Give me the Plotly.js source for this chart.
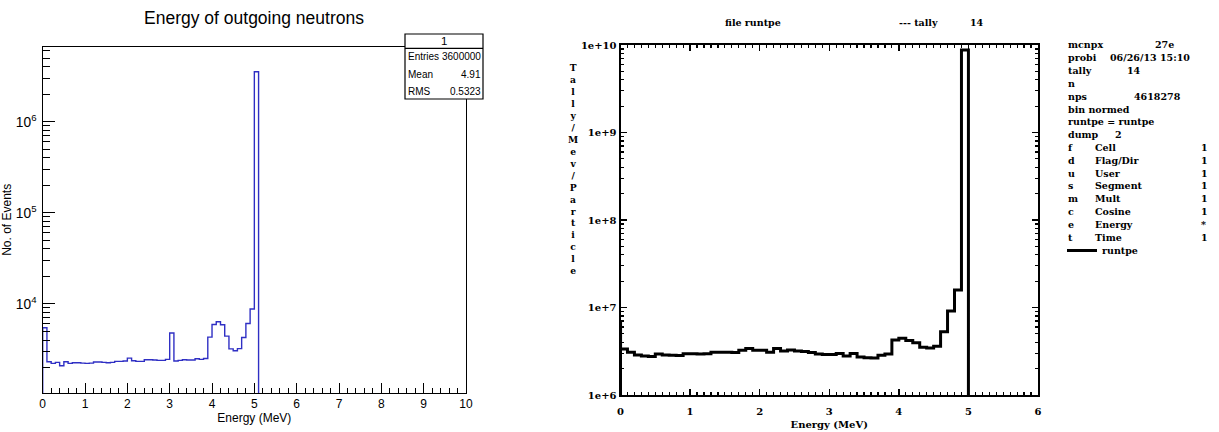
<!DOCTYPE html>
<html>
<head>
<meta charset="utf-8">
<script src="https://cdn.plot.ly/plotly-3.0.1.min.js"></script>
<style>html,body{margin:0;padding:0;background:#fff;}#plot{width:1219px;height:432px;}</style>
</head>
<body>
<div id="plot"></div>
<script>
// ---------- Left panel: ROOT histogram (bin edges in MeV, counts per 0.1 MeV bin) ----------
const leftEdges = [0.0,0.1,0.2,0.3,0.4,0.5,0.6,0.7,0.8,0.9,1.0,1.1,1.2,1.3,1.4,1.5,1.6,1.7,1.8,1.9,
  2.0,2.1,2.2,2.3,2.4,2.5,2.6,2.7,2.8,2.9,3.0,3.1,3.2,3.3,3.4,3.5,3.6,3.7,3.8,3.9,
  4.0,4.1,4.2,4.3,4.4,4.5,4.6,4.7,4.8,4.9,5.0,5.1];
const leftCounts = [5450,2306,2215,2270,2084,2306,2215,2250,2250,2230,
  2215,2230,2290,2290,2270,2250,2270,2330,2330,2350,
  2530,2366,2330,2330,2426,2426,2410,2390,2390,2450,
  4770,2350,2390,2426,2410,2410,2490,2450,2510,4300,
  5930,6340,5880,4415,3200,3045,3220,4270,6080,8750,
  3540000];
const leftXTickLabels = ['0','1','2','3','4','5','6','7','8','9','10'];
const statsLabels = ['Entries','Mean','RMS'];
const statsValues = ['3600000','4.91','0.5323'];

// ---------- Right panel: MCNP tally 14 (bin edges in MeV, tally/MeV/particle) ----------
const rightEdges = [0.0,0.001,0.1,0.2,0.3,0.4,0.5,0.6,0.7,0.8,0.9,1.0,1.1,1.2,1.3,1.4,1.5,1.6,1.7,1.8,1.9,
  2.0,2.1,2.2,2.3,2.4,2.5,2.6,2.7,2.8,2.9,3.0,3.1,3.2,3.3,3.4,3.5,3.6,3.7,3.8,3.9,
  4.0,4.1,4.2,4.3,4.4,4.5,4.6,4.7,4.8,4.9,5.0];
const rightValues = [6.6e6,
  3.36e6,3.08e6,2.87e6,2.79e6,2.76e6,2.94e6,2.87e6,2.84e6,2.82e6,2.96e6,
  2.96e6,2.94e6,2.96e6,3.08e6,3.08e6,3.08e6,3.05e6,3.24e6,3.39e6,3.24e6,
  3.24e6,3.08e6,3.39e6,3.18e6,3.27e6,3.18e6,3.15e6,3.05e6,2.94e6,2.91e6,
  2.91e6,2.99e6,2.79e6,2.99e6,2.72e6,2.66e6,2.64e6,2.84e6,2.94e6,4.25e6,
  4.45e6,4.2e6,3.95e6,3.51e6,3.45e6,3.6e6,5.3e6,9.1e6,1.58e7,8.77e9];
const rightYTickVals = [1e6,1e7,1e8,1e9,1e10];
const rightYTickLabels = ['1e+6','1e+7','1e+8','1e+9','1e+10'];
const rightYTitle = 'Tally/Mev/Particle';
const infoRows = [
  ['mcnpx','','27e'],
  ['probi','06/26/13 15:10',''],
  ['tally','14',''],
  ['n','',''],
  ['nps','4618278',''],
  ['bin normed','',''],
  ['runtpe = runtpe','',''],
  ['dump','2',''],
  ['f','Cell','1'],
  ['d','Flag/Dir','1'],
  ['u','User','1'],
  ['s','Segment','1'],
  ['m','Mult','1'],
  ['c','Cosine','1'],
  ['e','Energy','*'],
  ['t','Time','1']
];

// ---------- helpers ----------
const W = 1219, H = 432;
const px = x => x / W;
const py = y => 1 - y / H;
const EMPTY = 1e-3; // empty bins drawn down to (below) the axis floor, as in ROOT/MCNP
function stepXY(edges, vals) {
  const xs = [edges[0]].concat(edges);
  const ys = [EMPTY].concat(vals).concat([EMPTY]);
  return {x: xs, y: ys};
}
const L = stepXY(leftEdges, leftCounts);
const R = stepXY(rightEdges, rightValues);

const sans = 'Liberation Sans, Arial, sans-serif';
const serif = 'DejaVu Serif, serif';

const traces = [
  {x: L.x, y: L.y, type: 'scatter', mode: 'lines', line: {shape: 'hv', color: '#2f2fc4', width: 1.4},
   xaxis: 'x', yaxis: 'y', showlegend: false, hoverinfo: 'skip'},
  {x: R.x, y: R.y, type: 'scatter', mode: 'lines', name: 'runtpe', line: {shape: 'hv', color: '#000', width: 3},
   xaxis: 'x2', yaxis: 'y2', showlegend: true, hoverinfo: 'skip'}
];

const annotations = [];
// stats box texts
const statFont = {family:sans, size:10, color:'#000'};
annotations.push({xref:'paper', yref:'paper', x: px(444), y: py(41), text: '1', showarrow:false,
  xanchor:'center', yanchor:'middle', font: {family:sans, size:11.5, color:'#000'}});
const statsY = [57, 74, 91];
statsLabels.forEach((t,i) => {
  annotations.push({xref:'paper', yref:'paper', x: px(406), y: py(statsY[i]), text: t, showarrow:false,
    xanchor:'left', yanchor:'middle', font: statFont});
  annotations.push({xref:'paper', yref:'paper', x: px(482.5), y: py(statsY[i]), text: statsValues[i], showarrow:false,
    xanchor:'right', yanchor:'middle', font: statFont});
});
// right panel header
const hdrFont = {family: serif, size: 9.5, color:'#000', weight:'bold'};
annotations.push({xref:'paper', yref:'paper', x: px(723), y: py(23), text:'file runtpe', showarrow:false,
  xanchor:'left', yanchor:'middle', font: hdrFont});
annotations.push({xref:'paper', yref:'paper', x: px(897), y: py(23), text:'--- tally', showarrow:false,
  xanchor:'left', yanchor:'middle', font: hdrFont});
annotations.push({xref:'paper', yref:'paper', x: px(968), y: py(23), text:'14', showarrow:false,
  xanchor:'left', yanchor:'middle', font: hdrFont});
// stacked y title
annotations.push({xref:'paper', yref:'paper', x: px(573), y: py(169), text: rightYTitle.split('').join('<br>'),
  showarrow:false, xanchor:'center', yanchor:'middle', align:'center',
  font:{family: serif, size: 9.2, color:'#000', weight:'bold'}});
// info block
const col2X = {0:1153, 1:1108, 2:1125, 4:1132, 7:1113};
infoRows.forEach((r,i) => {
  const y = 45 + i * 12.8;
  annotations.push({xref:'paper', yref:'paper', x: px(1066), y: py(y), text: r[0], showarrow:false,
    xanchor:'left', yanchor:'middle', font: hdrFont});
  if (r[1]) {
    const xx = (i >= 8) ? 1093 : col2X[i];
    annotations.push({xref:'paper', yref:'paper', x: px(xx), y: py(y), text: r[1], showarrow:false,
      xanchor:'left', yanchor:'middle', font: hdrFont});
  }
  if (r[2]) {
    const xx = (i === 0) ? 1153 : 1199;
    annotations.push({xref:'paper', yref:'paper', x: px(xx), y: py(y), text: r[2], showarrow:false,
      xanchor:'left', yanchor:'middle', font: hdrFont});
  }
});

const layout = {
  width: W, height: H,
  margin: {l:0, r:0, t:0, b:0},
  paper_bgcolor: '#fff', plot_bgcolor: '#fff',
  title: {text: 'Energy of outgoing neutrons', x: px(254), xanchor:'center', y: py(18), yanchor:'middle',
    font: {family: sans, size: 17.5, color:'#000'}},
  xaxis: {domain: [px(42.7), px(466)], range: [0, 10], anchor:'y',
    tickmode:'array', tickvals:[0,1,2,3,4,5,6,7,8,9,10], ticktext: leftXTickLabels,
    ticks:'inside', ticklen:10, tickwidth:1, tickcolor:'#000',
    minor:{ticks:'inside', ticklen:5, dtick:0.2, tick0:0, tickcolor:'#000', tickwidth:1},
    showline:true, linecolor:'#000', linewidth:1, mirror:true, showgrid:false, zeroline:false,
    tickfont:{family:sans, size:12, color:'#000'}, ticklabelstandoff: 0,
    title:{text:'Energy (MeV)', font:{family:sans, size:12, color:'#000'}, standoff: 1}},
  yaxis: {domain: [py(393), py(46.7)], type:'log', range:[3.02, 6.824], anchor:'x',
    dtick:1, exponentformat:'power',
    ticks:'inside', ticklen:12, tickwidth:1, tickcolor:'#000',
    minor:{ticks:'inside', ticklen:7, dtick:'D1', tickcolor:'#000', tickwidth:1},
    showline:true, linecolor:'#000', linewidth:1, mirror:true, showgrid:false, zeroline:false,
    tickfont:{family:sans, size:11, color:'#000'}, ticklabelstandoff: 3,
    title:{text:'No. of Events', font:{family:sans, size:12, color:'#000'}, standoff: 4}},
  xaxis2: {domain: [px(620.5), px(1038)], range:[0, 6], anchor:'y2',
    dtick:1, tick0:0,
    ticks:'inside', ticklen:6, tickwidth:1.5, tickcolor:'#000',
    minor:{ticks:'inside', ticklen:3, dtick:0.1, tick0:0, tickcolor:'#000', tickwidth:1.2},
    showline:true, linecolor:'#000', linewidth:2, mirror:'allticks', showgrid:false, zeroline:false,
    tickfont:{family:serif, size:10, color:'#000', weight:'bold'}, ticklabelstandoff: 6,
    title:{text:'Energy (MeV)', font:{family:serif, size:10, color:'#000', weight:'bold'}, standoff: 5}},
  yaxis2: {domain: [py(395), py(45)], type:'log', range:[6, 10], anchor:'x2',
    tickmode:'array', tickvals: rightYTickVals, ticktext: rightYTickLabels,
    ticks:'inside', ticklen:6, tickwidth:1.5, tickcolor:'#000',
    minor:{ticks:'inside', ticklen:3, dtick:'D1', tickcolor:'#000', tickwidth:1.2},
    showline:true, linecolor:'#000', linewidth:2, mirror:'allticks', showgrid:false, zeroline:false,
    tickfont:{family:serif, size:10, color:'#000', weight:'bold'}, ticklabelstandoff: 0},
  showlegend: true,
  legend: {x: px(1062), y: py(236), xanchor:'left', yanchor:'top', bgcolor:'rgba(0,0,0,0)',
    borderwidth:0, font: hdrFont, itemwidth:30, tracegroupgap:0},
  shapes: [
    {type:'rect', xref:'paper', yref:'paper', x0: px(405), x1: px(483), y0: py(99), y1: py(34),
     line:{color:'#000', width:1.2}, fillcolor:'#fff', layer:'above'},
    {type:'line', xref:'paper', yref:'paper', x0: px(405), x1: px(483), y0: py(48.3), y1: py(48.3),
     line:{color:'#000', width:1.2}, layer:'above'}
  ],
  annotations: annotations
};

Plotly.newPlot('plot', traces, layout, {staticPlot:true, displayModeBar:false});
</script>
</body>
</html>
